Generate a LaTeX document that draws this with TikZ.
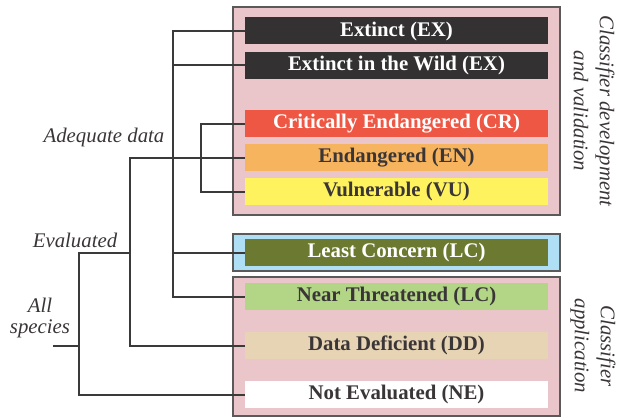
\documentclass[tikz,border=0pt]{standalone}
\usepackage{fontspec}
\setmainfont{Liberation Serif}
\definecolor{grpPink}{HTML}{EAC6CA}
\definecolor{grpBlue}{HTML}{AEDFF5}
\definecolor{grpLine}{HTML}{5A5A5A}
\definecolor{treeCol}{HTML}{3A3A3A}
\definecolor{txtDark}{HTML}{3A3536}
\definecolor{cEX}{HTML}{333132}
\definecolor{cCR}{HTML}{EE5744}
\definecolor{cEN}{HTML}{F7B45F}
\definecolor{cVU}{HTML}{FFF25F}
\definecolor{cLC}{HTML}{6B7A30}
\definecolor{cNT}{HTML}{B2D586}
\definecolor{cDD}{HTML}{E7D4B5}
\definecolor{cNE}{HTML}{FFFFFF}
\begin{document}
\begin{tikzpicture}[x=0.5pt,y=-0.5pt,
  grp/.style={draw=grpLine, line width=0.8pt, minimum width=163.5pt, inner sep=0pt},
  cat/.style={minimum width=151.5pt, minimum height=13.5pt, inner sep=0pt,
    font=\fontsize{10.4}{12}\selectfont\bfseries},
  lbl/.style={font=\fontsize{10.4}{12.5}\selectfont\itshape, text=txtDark, inner sep=0pt, align=center},
  tree/.style={draw=treeCol, line width=1pt}]
\useasboundingbox (0,0) rectangle (620,417);
% group boxes
\node[grp, fill=grpPink, minimum height=104pt] (g1) at (396.5,111) {};
\node[grp, fill=grpBlue, minimum height=18.5pt] (g2) at (396.5,252.5) {};
\node[grp, fill=grpPink, minimum height=69.5pt] (g3) at (396.5,346.5) {};
% categories
\node[cat, fill=cEX, text=white] (ex) at (396.5,31) {Extinct (EX)};
\node[cat, fill=cEX, text=white] (ew) at (396.5,65.5) {Extinct in the Wild (EX)};
\node[cat, fill=cCR, text=white] (cr) at (396.5,123.5) {Critically Endangered (CR)};
\node[cat, fill=cEN, text=txtDark] (en) at (396.5,157.5) {Endangered (EN)};
\node[cat, fill=cVU, text=txtDark] (vu) at (396.5,191.5) {Vulnerable (VU)};
\node[cat, fill=cLC, text=white] (lc) at (396.5,252.5) {Least Concern (LC)};
\node[cat, fill=cNT, text=txtDark] (nt) at (396.5,296.5) {Near Threatened (LC)};
\node[cat, fill=cDD, text=txtDark] (dd) at (396.5,345.5) {Data Deficient (DD)};
\node[cat, fill=cNE, text=txtDark] (ne) at (396.5,394.5) {Not Evaluated (NE)};
% trunk positions
\coordinate (tS) at (79,0);
\coordinate (tE) at (130,0);
\coordinate (tA) at (173,0);
\coordinate (tT) at (200.5,0);
\coordinate (root) at (53,345.5);
% tree
\draw[tree] (ex.west) -- (ex.west -| tA) -- (nt.west -| tA) -- (nt.west);
\draw[tree] (ew.west) -- (ew.west -| tA);
\draw[tree] (lc.west) -- (lc.west -| tA);
\draw[tree] (cr.west) -- (cr.west -| tT) -- (vu.west -| tT) -- (vu.west);
\draw[tree] (en.west) -- (en.west -| tE) -- (dd.west -| tE) -- (dd.west);
\draw[tree] (lc.west -| tE) -- (lc.west -| tS) -- (ne.west -| tS) -- (ne.west);
\draw[tree] (root) -- (dd.west -| tS);
% labels
\node[lbl] (ladq) at (104,137) {Adequate data};
\node[lbl] (lev) at (75,240) {Evaluated};
\node[lbl, font=\fontsize{10.4}{10.5}\selectfont\itshape] (lall) at (40,318) {All\\species};
\node[lbl, rotate=-90, font=\fontsize{10.4}{13}\selectfont\itshape] (ldev) at (594,111) {Classifier development\\and validation};
\node[lbl, rotate=-90, font=\fontsize{10.4}{13}\selectfont\itshape] (lapp) at (593,346) {Classifier\\application};
\end{tikzpicture}
\end{document}
